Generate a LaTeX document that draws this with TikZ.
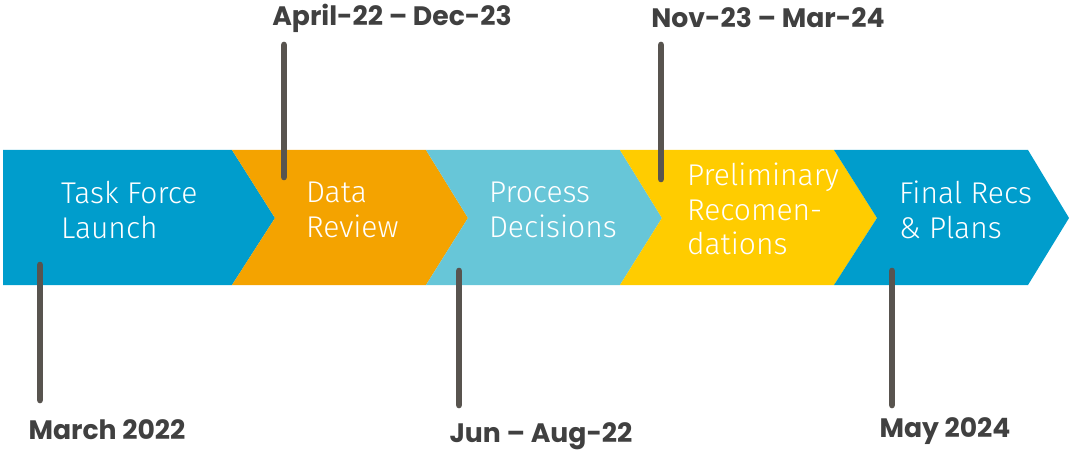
\documentclass[tikz,border=0pt]{standalone}
\usepackage{fontspec}
\setmainfont{Fira Sans}[UprightFont=* Light]
\newfontfamily\datefont{Poppins}[UprightFont=* Bold]
\usepackage{tikz}

\definecolor{stepblue}{HTML}{009DCC}
\definecolor{steporange}{HTML}{F4A300}
\definecolor{steplight}{HTML}{67C6D8}
\definecolor{stepyellow}{HTML}{FFCC00}
\definecolor{tickgray}{HTML}{58544F}
\definecolor{dategray}{HTML}{404040}

\begin{document}
\begin{tikzpicture}[
  x=0.75pt,y=-0.75pt,
  every node/.style={inner sep=0pt,outer sep=0pt},
  steptext/.style={text=white,font=\fontsize{22.5}{26}\selectfont,align=left,anchor=west},
  datelabel/.style={text=dategray,font=\datefont\fontsize{20}{22}\selectfont},
  tick/.style={draw=tickgray,line width=5pt,line cap=round}]
  \useasboundingbox (0,0) rectangle (1069,452);

  % Chevron band
  \fill[stepblue]   (3,150) -- (232,150) -- (275,218) -- (232,285) -- (3,285) -- cycle;
  \fill[steporange] (232,150) -- (426,150) -- (468,218) -- (426,285) -- (232,285) -- (275,218) -- cycle;
  \fill[steplight]  (426,150) -- (620,150) -- (662,218) -- (620,285) -- (426,285) -- (468,218) -- cycle;
  \fill[stepyellow] (620,150) -- (834,150) -- (877,218) -- (834,285) -- (620,285) -- (662,218) -- cycle;
  \fill[stepblue]   (834,150) -- (1028,150) -- (1069,218) -- (1028,285) -- (834,285) -- (877,218) -- cycle;

  % Step texts
  \node[steptext] (launch)   at (61,210)  {Task Force\\Launch};
  \node[steptext] (review)   at (306,210) {Data\\Review};
  \node[steptext] (decide)   at (489,210) {Process\\Decisions};
  \node[steptext] (prelim)   at (687,209) {Preliminary\\Recomen-\\dations};
  \node[steptext] (final)    at (899,210) {Final Recs\\\& Plans};

  % Date labels
  \node[datelabel] (march)   at (107,430) {March 2022};
  \node[datelabel] (aprdec)  at (392,18)  {April-22 – Dec-23};
  \node[datelabel] (junaug)  at (541,436) {Jun – Aug-22};
  \node[datelabel] (novmar)  at (768,18)  {Nov-23 – Mar-24};
  \node[datelabel] (may)     at (945,431) {May 2024};

  % Tick lines
  \coordinate (marchtop) at (40,265);   \coordinate (marchend) at (40,400);
  \coordinate (aprtop)   at (284,45);   \coordinate (aprend)   at (284,177);
  \coordinate (juntop)   at (459,271);  \coordinate (junend)   at (459,405);
  \coordinate (novtop)   at (661,45);   \coordinate (novend)   at (661,179);
  \coordinate (maytop)   at (892,271);  \coordinate (mayend)   at (892,405);
  \draw[tick] (marchtop) -- (marchend);
  \draw[tick] (aprtop)   -- (aprend);
  \draw[tick] (juntop)   -- (junend);
  \draw[tick] (novtop)   -- (novend);
  \draw[tick] (maytop)   -- (mayend);
\end{tikzpicture}
\end{document}
